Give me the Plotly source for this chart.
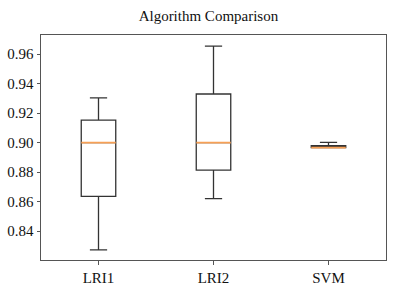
import plotly.graph_objects as go

names = ["LRI1", "LRI2", "SVM"]
positions = [1, 2, 3]
lower = [0.8272, 0.8620, 0.8966]
q1 = [0.8636, 0.8814, 0.8966]
median = [0.9000, 0.9000, 0.8966]
q3 = [0.9153, 0.9330, 0.8980]
upper = [0.9304, 0.9654, 0.9002]
yticks = [0.84, 0.86, 0.88, 0.90, 0.92, 0.94, 0.96]

FONT = "Liberation Serif, Times New Roman, serif"
BOXW = 0.3
fig = go.Figure()
for i, n in enumerate(names):
    fig.add_trace(go.Box(
        x=[positions[i]], q1=[q1[i]], median=[median[i]], q3=[q3[i]],
        lowerfence=[lower[i]], upperfence=[upper[i]],
        width=BOXW, whiskerwidth=0.5, boxpoints=False,
        fillcolor="rgba(0,0,0,0)", line=dict(color="#333", width=1.3),
        name=n, showlegend=False, hoverinfo="skip"))
    fig.add_trace(go.Scatter(
        x=[positions[i] - BOXW / 2, positions[i] + BOXW / 2],
        y=[median[i], median[i]], mode="lines",
        line=dict(color="#f7a055", width=1.6), showlegend=False, hoverinfo="skip"))

axis_common = dict(showline=True, mirror=True, linecolor="#555", linewidth=1,
                   ticks="outside", ticklen=3.5, tickcolor="#555", showgrid=False,
                   zeroline=False, automargin=False,
                   tickfont=dict(family=FONT, size=15, color="#111"))
fig.update_xaxes(range=[0.5, 3.5], tickvals=positions, ticktext=names, **axis_common)
fig.update_yaxes(range=[0.8204, 0.973], tickvals=yticks,
                 ticktext=[f"{v:.2f}" for v in yticks], **axis_common)
fig.update_layout(
    width=397, height=286,
    margin=dict(l=41, r=11, t=35, b=26),
    paper_bgcolor="white", plot_bgcolor="white",
    title=dict(text="Algorithm Comparison", x=0.525, xanchor="center", y=0.945, yanchor="middle",
               font=dict(family=FONT, size=15, color="#111")),
)
fig.write_html("out.html", config={"displayModeBar": False},
               post_script="document.body.style.margin='0';document.body.style.padding='0';")
